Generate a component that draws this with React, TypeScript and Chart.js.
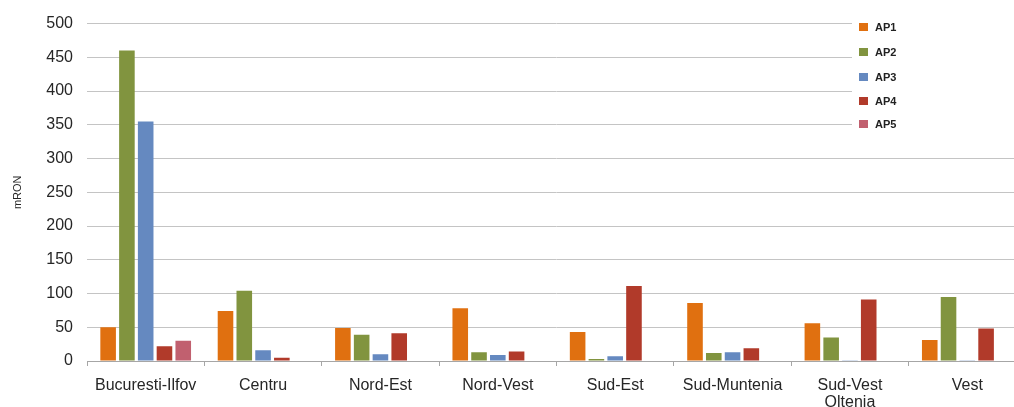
import React, { useEffect, useRef } from "react";
import { Chart, registerables } from "chart.js";

Chart.register(...registerables);

const categories: (string | string[])[] = [
  "Bucuresti-Ilfov",
  "Centru",
  "Nord-Est",
  "Nord-Vest",
  "Sud-Est",
  "Sud-Muntenia",
  ["Sud-Vest", "Oltenia"],
  "Vest",
];

const seriesNames = ["AP1", "AP2", "AP3", "AP4", "AP5"];
const seriesColors = ["#e07010", "#81943f", "#6589c0", "#b13a2a", "#c1606f"];

const ap1 = [50, 74, 49, 78, 43, 86, 56, 31];
const ap2 = [460, 104, 39, 13, 3, 12, 35, 95];
const ap3 = [355, 16, 10, 9, 7, 13, 1, 1];
const ap4 = [22, 5, 41, 14, 111, 19, 91, 48];
const ap5 = [30, 0, 0, 0, 0, 0, 0, 0];

const yTicks = [0, 50, 100, 150, 200, 250, 300, 350, 400, 450, 500];

const FONT = "'Liberation Sans', Arial, sans-serif";

const legendPlugin = {
  id: "customLegend",
  afterDraw(chart: any) {
    const ctx = chart.ctx;
    ctx.save();
    ctx.fillStyle = "#ffffff";
    ctx.fillRect(852, 12, chart.width - 852, 132);
    const ys = [27, 52, 77, 101, 124];
    seriesNames.forEach((name, i) => {
      ctx.fillStyle = seriesColors[i];
      ctx.fillRect(859, ys[i] - 4, 9, 8);
      ctx.fillStyle = "#222222";
      ctx.font = `bold 11px ${FONT}`;
      ctx.textBaseline = "middle";
      ctx.textAlign = "left";
      ctx.fillText(name, 875, ys[i] + 0.5);
    });
    ctx.restore();
  },
};

export default function App() {
  const ref = useRef<HTMLCanvasElement | null>(null);

  useEffect(() => {
    if (!ref.current) return;
    const data = [ap1, ap2, ap3, ap4, ap5];
    const chart = new Chart(ref.current, {
      type: "bar",
      data: {
        labels: categories,
        datasets: seriesNames.map((n, i) => ({
          label: n,
          data: data[i],
          backgroundColor: seriesColors[i],
          borderWidth: 0,
          categoryPercentage: 0.8,
          barPercentage: 0.83,
        })),
      },
      plugins: [legendPlugin],
      options: {
        responsive: false,
        animation: false,
        devicePixelRatio: 1,
        layout: { padding: { left: 0, right: 4, top: 22, bottom: 0 } },
        plugins: {
          legend: { display: false },
          tooltip: { enabled: false },
        },
        scales: {
          x: {
            grid: {
              display: true,
              drawOnChartArea: false,
              drawTicks: true,
              tickLength: 5,
              color: "#a6a6a6",
              offset: true,
            },
            border: { display: true, color: "#a6a6a6", width: 1 },
            ticks: {
              color: "#262626",
              font: { family: FONT, size: 16, lineHeight: 1.06 },
              padding: 11,
              maxRotation: 0,
              autoSkip: false,
            },
            afterFit(scale: any) {
              scale.height = 46;
            },
          },
          y: {
            min: 0,
            max: 500,
            afterBuildTicks(scale: any) {
              scale.ticks = yTicks.map((v) => ({ value: v }));
            },
            grid: {
              color: "#c4c4c4",
              drawTicks: false,
              lineWidth: 1,
            },
            border: { display: false },
            ticks: {
              color: "#262626",
              font: { family: FONT, size: 16 },
              padding: 14,
            },
            title: {
              display: true,
              text: "mRON",
              color: "#262626",
              font: { family: FONT, size: 11 },
              padding: { top: 11, bottom: 0 },
            },
            afterFit(scale: any) {
              scale.width = 87;
            },
          },
        },
      },
    });
    return () => chart.destroy();
  }, []);

  return (
    <div
      style={{
        position: "fixed",
        left: 0,
        top: 0,
        width: 1014,
        height: 407,
        overflow: "hidden",
        background: "#ffffff",
      }}
    >
      <canvas
        ref={ref}
        width={1030}
        height={407}
        style={{ width: 1030, height: 407, display: "block" }}
      />
    </div>
  );
}
